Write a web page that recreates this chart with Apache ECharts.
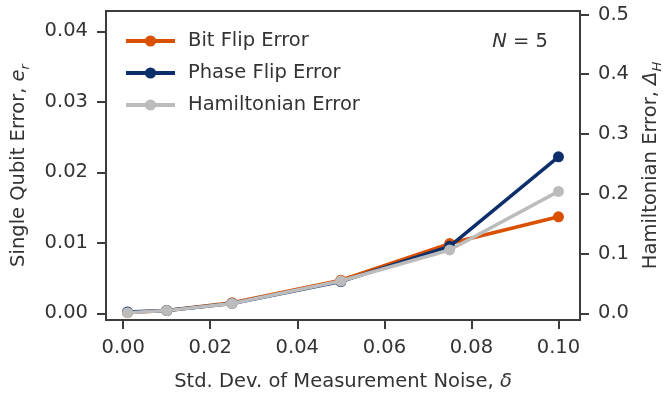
<!DOCTYPE html>
<html>
<head>
<meta charset="utf-8">
<script src="https://cdn.jsdelivr.net/npm/echarts@6/dist/echarts.min.js"></script>
<style>html,body{margin:0;padding:0;background:#fff}#c{width:664px;height:394px}</style>
</head>
<body>
<div id="c"></div>
<script>
// ---- data ----
const noiseStd = [0.001, 0.01, 0.025, 0.05, 0.075, 0.1];
const bitFlipError = [0.0001, 0.0004, 0.0015, 0.0047, 0.0099, 0.0137];
const phaseFlipError = [0.0002, 0.0004, 0.0014, 0.0045, 0.0095, 0.0222];
const hamiltonianError = [0.001, 0.0045, 0.0165, 0.054, 0.106, 0.204];
const xTicks = [0, 0.02, 0.04, 0.06, 0.08, 0.10];
const leftTicks = [0, 0.01, 0.02, 0.03, 0.04];
const rightTicks = [0, 0.1, 0.2, 0.3, 0.4, 0.5];
const seriesNames = ['Bit Flip Error', 'Phase Flip Error', 'Hamiltonian Error'];
const colors = ['#d95000', '#0c2f6b', '#bcbcbc'];

const FONT = 'DejaVu Sans';
const FS = 19.5;
const TXT = '#333333';
const AX = '#3c3c3c';

function pairs(xs, ys) { return xs.map((x, i) => [x, ys[i]]); }

function axisCommon(ticks, digits) {
  return {
    axisLine: { show: true, onZero: false, lineStyle: { color: AX, width: 2 } },
    axisTick: { show: true, length: 9, customValues: ticks, lineStyle: { color: AX, width: 2 } },
    axisLabel: { customValues: ticks, color: TXT, fontFamily: FONT, fontSize: FS, margin: 18,
      formatter: v => Number(v).toFixed(digits) },
    splitLine: { show: false }
  };
}

function nameRich() {
  return {
    n: { fontFamily: FONT, fontSize: FS, color: TXT, lineHeight: 26, verticalAlign: 'middle' },
    i: { fontFamily: FONT, fontSize: FS, color: TXT, fontStyle: 'italic', lineHeight: 26, verticalAlign: 'middle' },
    s: { fontFamily: FONT, fontSize: 13, color: TXT, fontStyle: 'italic', lineHeight: 9, verticalAlign: 'bottom' }
  };
}

const chart = echarts.init(document.getElementById('c'), null, { renderer: 'canvas' });
const seriesData = [bitFlipError, phaseFlipError, hamiltonianError];
const option = {
  animation: false,
  backgroundColor: '#ffffff',
  textStyle: { fontFamily: FONT },
  grid: { left: 106, right: 84, top: 11, bottom: 74, containLabel: false, outerBoundsMode: 'none',
    show: true, borderColor: AX, borderWidth: 2, backgroundColor: 'transparent' },
  title: {
    text: '{i|N} = 5', right: 116, top: 32, padding: 0,
    textStyle: { fontFamily: FONT, fontSize: FS, fontWeight: 'normal', color: TXT,
      rich: { i: { fontFamily: FONT, fontSize: FS, fontStyle: 'italic', color: TXT } } }
  },
  legend: {
    left: 124, top: 31, padding: 0, orient: 'vertical', itemWidth: 49, itemHeight: 14, itemGap: 12,
    data: seriesNames,
    lineStyle: { width: 4 },
    textStyle: { fontFamily: FONT, fontSize: FS, color: TXT, padding: [0, 0, 0, 8] }
  },
  xAxis: Object.assign({
    type: 'value', min: -0.00395, max: 0.10495,
    name: '{n|Std. Dev. of Measurement Noise, }{i|δ}', nameLocation: 'middle', nameGap: 52,
    nameTextStyle: { rich: {
      n: { fontFamily: FONT, fontSize: FS, color: TXT },
      i: { fontFamily: FONT, fontSize: FS, color: TXT, fontStyle: 'italic' } } }
  }, axisCommon(xTicks, 2)),
  yAxis: [
    Object.assign({
      type: 'value', position: 'left', min: -0.00095, max: 0.0429,
      name: '{n|Single Qubit Error, }{i|e}{s|r}', nameLocation: 'middle', nameGap: 74, nameRotate: 90,
      nameTextStyle: { rich: nameRich() }
    }, axisCommon(leftTicks, 2)),
    Object.assign({
      type: 'value', position: 'right', min: -0.0112, max: 0.5058,
      name: '{n|Hamiltonian Error, }{i|Δ}{s|H}', nameLocation: 'middle', nameGap: 58, nameRotate: 90,
      nameTextStyle: { rich: nameRich() }
    }, axisCommon(rightTicks, 1))
  ],
  series: seriesData.map((d, i) => ({
    name: seriesNames[i], type: 'line', yAxisIndex: i === 2 ? 1 : 0,
    data: pairs(noiseStd, d), symbol: 'circle', symbolSize: 11,
    lineStyle: { color: colors[i], width: 3.5 },
    itemStyle: { color: colors[i] },
    z: 2 + i
  }))
};
chart.setOption(option);
</script>
</body>
</html>
